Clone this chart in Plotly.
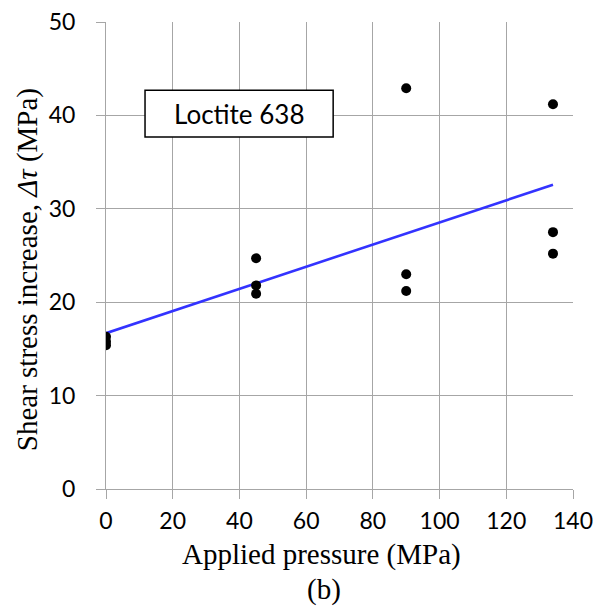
import numpy as np
import plotly.graph_objects as go

pressure = [0, 0, 0, 45, 45, 45, 90, 90, 90, 134, 134, 134]
shear_increase = [16.3, 15.8, 15.4, 24.7, 21.8, 20.9, 42.9, 23.0, 21.2, 41.2, 27.5, 25.2]
x_ticks = [0, 20, 40, 60, 80, 100, 120, 140]
y_ticks = [0, 10, 20, 30, 40, 50]
label = "Loctite 638"
x_title = "Applied pressure (MPa)"
y_title = "Shear stress increase, <i>Δτ</i> (MPa)"
caption = "(b)"

slope, intercept = np.polyfit(pressure, shear_increase, 1)
fit_x = [min(pressure), max(pressure)]
fit_y = [intercept + slope * v for v in fit_x]

fig = go.Figure()
fig.add_trace(go.Scatter(x=fit_x, y=fit_y, mode="lines",
                         line=dict(color="#3333ff", width=2.6), showlegend=False))
fig.add_trace(go.Scatter(x=pressure, y=shear_increase, mode="markers",
                         marker=dict(color="black", size=10), showlegend=False))

grid = "#a6a6a6"
tickfont = dict(family="Lato, Open Sans, sans-serif", size=23, color="black")
serif = dict(family="Liberation Serif, Times New Roman, serif", size=29, color="black")

fig.update_xaxes(range=[0, 140], tickvals=x_ticks, showgrid=True, gridcolor=grid, gridwidth=1,
                 zeroline=False, showline=True, linecolor=grid, ticks="outside", ticklen=9,
                 tickcolor=grid, tickfont=tickfont, automargin=False, ticklabelstandoff=2)
fig.update_yaxes(range=[0, 50], tickvals=y_ticks, showgrid=True, gridcolor=grid, gridwidth=1,
                 zeroline=False, showline=True, linecolor=grid, ticks="outside", ticklen=9,
                 tickcolor=grid, tickfont=tickfont, automargin=False, ticklabelstandoff=16)

fig.add_shape(type="rect", xref="x", yref="y", x0=11.7, x1=68.1, y0=37.7, y1=42.7,
              line=dict(color="black", width=1.5), fillcolor="white", layer="above")
fig.add_annotation(x=(11.7 + 68.1) / 2, y=40.2, xref="x", yref="y", text=label, showarrow=False,
                   font=dict(family="Lato, Open Sans, sans-serif", size=26, color="black"))

fig.add_annotation(x=0.4625, y=-0.141, xref="paper", yref="paper", text=x_title, showarrow=False,
                   xanchor="center", yanchor="middle", font=serif)
fig.add_annotation(x=0.467, y=-0.216, xref="paper", yref="paper", text=caption, showarrow=False,
                   xanchor="center", yanchor="middle", font=serif)
fig.add_annotation(x=-0.169, y=0.4687, xref="paper", yref="paper", text=y_title, showarrow=False,
                   textangle=-90, xanchor="center", yanchor="middle", font=serif)

fig.update_layout(width=600, height=608, margin=dict(l=106, r=27, t=22, b=119, autoexpand=False),
                  plot_bgcolor="white", paper_bgcolor="white")
fig.write_html("out.html", config={"displayModeBar": False},
               post_script="document.body.style.margin='0';document.body.style.overflow='hidden';")
